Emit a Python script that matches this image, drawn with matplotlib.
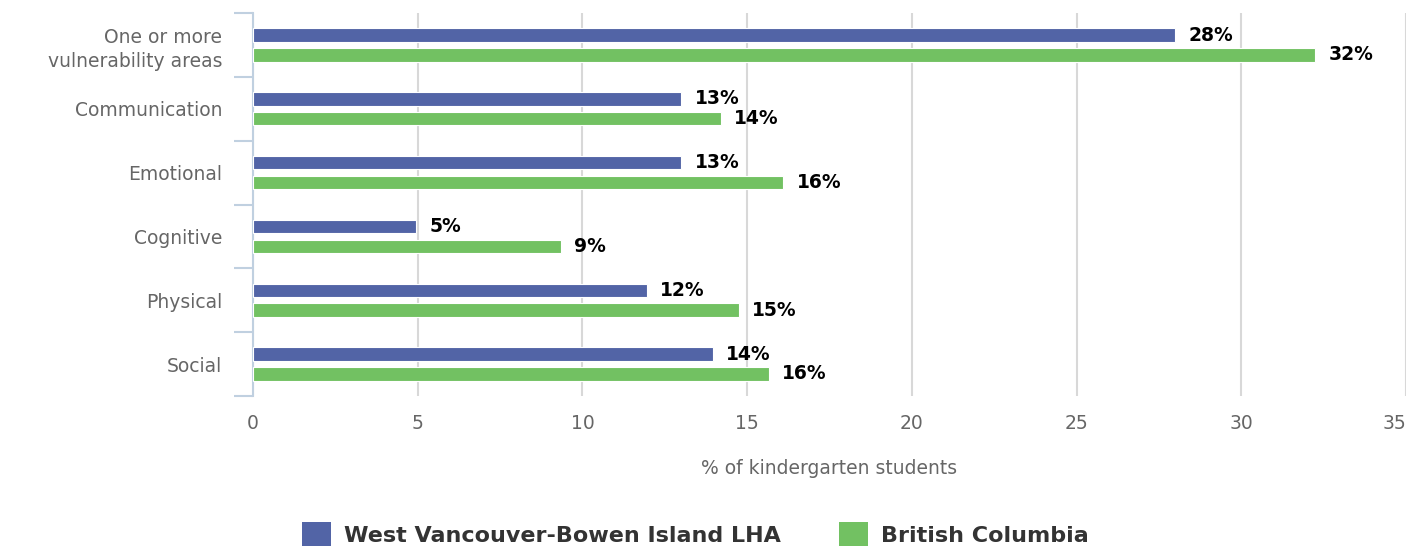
import numpy as np
import matplotlib.pyplot as plt
from matplotlib.patches import Patch
from matplotlib.ticker import FixedLocator

# ------------------------------
# Data
# ------------------------------
categories = ["One or more\nvulnerability areas", "Communication", "Emotional",
              "Cognitive", "Physical", "Social"]
wv_values = [28.0, 13.0, 13.0, 4.95, 11.95, 13.95]
bc_values = [32.25, 14.2, 16.1, 9.35, 14.75, 15.65]
series_names = ["West Vancouver-Bowen Island LHA", "British Columbia"]
x_ticks = [0, 5, 10, 15, 20, 25, 30, 35]

c_wv = "#5264a6"
c_bc = "#72c162"
axis_col = "#c0d0e0"
grid_col = "#d8d8d8"
txt_col = "#666666"

fig = plt.figure(figsize=(14.11, 5.46), dpi=100)
ax = fig.add_axes([0.1793, 0.2747, 0.8172, 0.7015])

y = np.arange(len(categories))
h = 0.21
off = 0.155

ax.barh(y - off, wv_values, height=h, color=c_wv, edgecolor="white", linewidth=0.8, zorder=3)
ax.barh(y + off, bc_values, height=h, color=c_bc, edgecolor="white", linewidth=0.8, zorder=3)

# подписи значений
for yi, v in zip(y, wv_values):
    ax.annotate(f"{v:.0f}%", (v, yi - off), xytext=(9.5, 0), textcoords="offset points",
                ha="left", va="center", fontsize=13.5, fontweight="bold", color="black")
for yi, v in zip(y, bc_values):
    ax.annotate(f"{v:.0f}%", (v, yi + off), xytext=(9.5, 0), textcoords="offset points",
                ha="left", va="center", fontsize=13.5, fontweight="bold", color="black")

ax.set_xlim(0, 35)
ax.set_ylim(len(categories) - 0.5, -0.5)
ax.set_xticks(x_ticks)
ax.set_xticklabels([str(t) for t in x_ticks])
ax.set_yticks(y)
ax.set_yticklabels(categories, linespacing=1.35)
ax.yaxis.set_minor_locator(FixedLocator(np.arange(len(categories) + 1) - 0.5))

ax.tick_params(axis="x", length=0, pad=13, labelsize=13.5, labelcolor=txt_col)
ax.tick_params(axis="y", which="major", length=0, pad=22, labelsize=13.5, labelcolor=txt_col)
ax.tick_params(axis="y", which="minor", length=14, width=1.5, color=axis_col)
ax.get_xticklabels()[-1].set_horizontalalignment("right")

ax.grid(axis="x", color=grid_col, linewidth=1.5, zorder=0)
ax.set_axisbelow(True)
for s in ["top", "right", "bottom"]:
    ax.spines[s].set_visible(False)
ax.spines["left"].set_color(axis_col)
ax.spines["left"].set_linewidth(1.5)

ax.set_xlabel("% of kindergarten students", fontsize=13.5, color=txt_col, labelpad=19)

# легенда
handles = [Patch(facecolor=c_wv, edgecolor="none"), Patch(facecolor=c_bc, edgecolor="none")]
leg = fig.legend(handles, series_names, loc="lower center", bbox_to_anchor=(0.493, -0.005),
                 ncol=2, frameon=False, handlelength=1.3, handleheight=1.3,
                 handletextpad=0.6, columnspacing=2.6, borderpad=0.1, borderaxespad=0,
                 prop={"size": 16, "weight": "bold"})
for t in leg.get_texts():
    t.set_color("#333333")

fig.savefig("out.png", dpi=100)
